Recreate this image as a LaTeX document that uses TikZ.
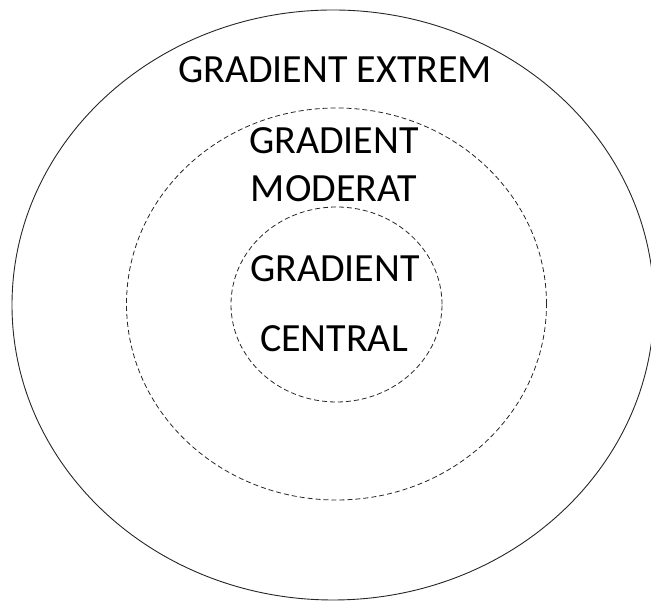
\documentclass[tikz,border=0pt]{standalone}
\usepackage{fontspec}
\setmainfont{Carlito}
\begin{document}
\begin{tikzpicture}[x=1pt,y=1pt,
  ring/.style={draw=black!85, line width=0.9pt},
  dashring/.style={draw=black!85, line width=0.8pt, dash pattern=on 5pt off 3pt},
  lbl/.style={anchor=base, inner sep=0pt, font=\fontsize{40}{48}\selectfont}]
\useasboundingbox (0,0) rectangle (651,601);
% nested zones
\draw[ring] (333,296) ellipse [x radius=321, y radius=295];
\draw[dashring] (336.5,297) ellipse [x radius=210, y radius=196];
\draw[dashring] (336.5,296.5) ellipse [x radius=105.5, y radius=97.5];
% zone labels
\node[lbl] (extrem) at (335,518) {GRADIENT EXTREM};
\node[lbl] (mod1) at (334,447) {GRADIENT};
\node[lbl] (mod2) at (334,399) {MODERAT};
\node[lbl] (cen1) at (335,319) {GRADIENT};
\node[lbl] (cen2) at (334,249) {CENTRAL};
\end{tikzpicture}
\end{document}
